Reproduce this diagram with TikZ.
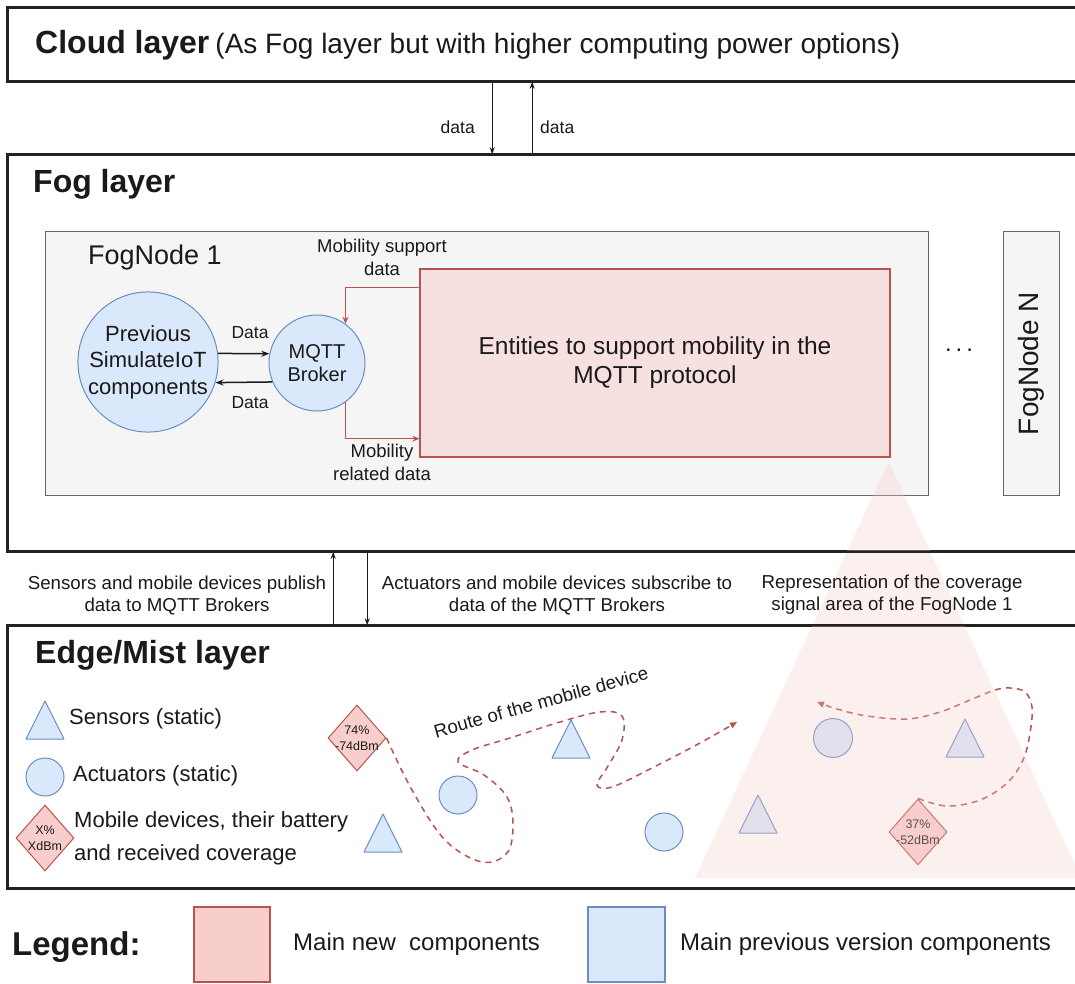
\documentclass[tikz,border=0pt]{standalone}
\usepackage{fontspec}
\setmainfont{Liberation Sans}
\usetikzlibrary{shapes.geometric,arrows.meta,calc}
\definecolor{ink}{HTML}{1A1A1A}
\definecolor{layerc}{HTML}{222222}
\definecolor{bluef}{HTML}{DAE8FC}
\definecolor{bluel}{HTML}{6C8EBF}
\definecolor{redf}{HTML}{F8CECC}
\definecolor{redl}{HTML}{B85450}
\definecolor{entf}{HTML}{F7E0E0}
\definecolor{grayf}{HTML}{F5F5F5}
\definecolor{grayl}{HTML}{666666}
\newcommand\fs[2]{\fontsize{#1}{#2}\selectfont}
\newcommand\sensortri[3][]{\draw[sensor,#1] (#2-19,#3+38) -- (#2+19,#3+38) -- (#2,#3) -- cycle;}
\tikzset{
 txt/.style={text=ink, inner sep=0},
 layer/.style={draw=layerc, line width=1.6pt, inner sep=0, minimum width=1070pt},
 layerline/.style={draw=layerc, line width=1.6pt},
 title/.style={txt, font=\fs{32}{38}\bfseries, anchor=base west},
 fognode/.style={draw=grayl, fill=grayf, line width=1pt, inner sep=0},
 bluec/.style={circle, draw=bluel, fill=bluef, line width=1pt, inner sep=0},
 entity/.style={draw=redl, fill=entf, line width=1.3pt, inner sep=0},
 mobile/.style={diamond, draw=redl, fill=redf, line width=1pt, inner sep=0, minimum width=58pt, minimum height=66pt},
 dtext/.style={txt, font=\fs{12.5}{16}, align=center},
 sensor/.style={draw=bluel, fill=bluef, line width=1pt, line join=round},
 arr/.style={draw=ink, line width=1pt, -{Stealth[length=7pt,width=5pt]}},
 darr/.style={draw=ink, line width=1.5pt, -{Stealth[length=8pt,width=6pt]}},
 rarr/.style={draw=redl, line width=1.3pt, -{Stealth[length=7pt,width=6pt]}},
 route/.style={draw=redl, line width=1.5pt, dash pattern=on 6pt off 5pt, -{Triangle[length=7pt,width=6pt]}},
 lbl/.style={txt, align=center, font=\fs{18.7}{22}},
 legtxt/.style={txt, anchor=west, font=\fs{22}{33}, align=left},
}
\begin{document}
\begin{tikzpicture}[x=1pt,y=-1pt]
\useasboundingbox (0,0) rectangle (1075,984);
\fill[white] (0,0) rectangle (1075,984);

% layers
\node[layer, minimum height=73pt] (cloud) at (543,44.5) {};
\node[layer, minimum height=396pt] (fog) at (543,353) {};
\node[layer, minimum height=262pt] (edge) at (543,757) {};

% fog nodes
\node[fognode, minimum width=883pt, minimum height=263pt] (fn1) at (486.5,363.5) {};
\node[txt, anchor=west, font=\fs{27}{32}] (fn1t) at (88,258) {FogNode 1};
\node[fognode, rotate=90, minimum width=263pt, minimum height=56pt, font=\fs{28}{32}, text=ink] (fnN) at (1031,363.5) {FogNode N};
\node[txt, font=\fs{24}{28}] (dots) at (959,350) {.\,.\,.};

\node[bluec, minimum size=140pt, align=center, font=\fs{22}{26.5}, text=ink] (prev) at (148,362) {Previous\\SimulateIoT\\components};
\node[bluec, minimum size=96pt, align=center, font=\fs{20}{23}, text=ink] (broker) at (317,363) {MQTT\\Broker};
\node[entity, minimum width=470pt, minimum height=188pt, align=center, font=\fs{24.5}{29}, text=ink] (ent) at (655,363) {Entities to support mobility in the\\MQTT protocol};

\draw[darr] (prev.7) -- (broker.169);
\draw[darr] (broker.203) -- (prev.-17);
\node[txt, font=\fs{17.5}{20}] (d1l) at (250,333) {Data};
\node[txt, font=\fs{17.5}{20}] (d2l) at (250,403) {Data};

\draw[rarr] ($(ent.north west)+(0,19)$) -| (broker.54);
\draw[rarr] (broker.-54) |- ($(ent.south west)+(0,-19)$);
\node[txt, align=center, font=\fs{18.5}{23}] (msd) at (382,257) {Mobility support\\data};
\node[txt, align=center, font=\fs{18.5}{23}] (mrd) at (382,462) {Mobility\\related data};

% cloud-fog arrows
\draw[arr] ($(cloud.south west)+(485,0)$) -- ($(fog.north west)+(485,0)$);
\draw[arr] ($(fog.north west)+(525,0)$) -- ($(cloud.south west)+(525,0)$);
\node[txt, anchor=east, font=\fs{17.5}{20}] (dl1) at (475,127) {data};
\node[txt, anchor=west, font=\fs{17.5}{20}] (dl2) at (540,127) {data};

% fog-edge arrows
\draw[arr] ($(edge.north west)+(326,0)$) -- ($(fog.south west)+(326,0)$);
\draw[arr] ($(fog.south west)+(360,0)$) -- ($(edge.north west)+(360,0)$);

% edge layer legend items
\sensortri{45}{701}
\node[bluec, minimum size=38pt] (lact) at (45,777) {};
\node[mobile] (lmob) at (45,838) {};
\node[dtext] (lmobt) at (lmob) {X\%\\XdBm};
\node[legtxt] (lsen) at (69,719) {Sensors (static)};
\node[legtxt] (lac) at (73,776) {Actuators (static)};
\node[legtxt] (lmb) at (74,838) {Mobile devices, their battery\\and received coverage};

% edge scene
\node[mobile] (m1) at (357,738) {};
\node[dtext] (m1t) at (m1) {74\%\\-74dBm};
\node[bluec, minimum size=38pt] (a1) at (458,795) {};
\node[bluec, minimum size=38pt] (a2) at (664,832) {};
\sensortri{383}{814}
\sensortri{571}{720}
\draw[route] plot[smooth, tension=0.6] coordinates {(m1.east) (412,790) (445,840) (482,862) (507,853) (513,825) (507,797) (484,775) (458,762) (472,750) (510,738) (560,722) (600,712) (622,716) (622,740) (608,766) (597,785) (612,787) (650,769) (700,743) (737,722)};
\node[txt, rotate=15.5, font=\fs{18.7}{22}] (routel) at (541,702) {Route of the mobile device};

\node[bluec, minimum size=39pt] (a3) at (833,738) {};
\sensortri{965}{719}
\sensortri{758}{795}
\node[mobile] (m2) at (918,832) {};
\node[dtext] (m2t) at (m2) {37\%\\-52dBm};
\draw[route] plot[smooth, tension=0.6] coordinates {(m2.north) (947,806) (980,800) (1007,783) (1023,760) (1030,733) (1032,707) (1025,692) (1010,688) (995,690) (970,700) (940,712) (907,719) (867,716) (837,709) (817,702)};

% coverage triangle
\fill[redf, fill opacity=0.3] ($(ent.south east)+(-2,4)$) -- (695,878) -- (1081,878) -- cycle;

% layer outlines on top
\draw[layerline] (cloud.south west) rectangle (cloud.north east);
\draw[layerline] (fog.south west) rectangle (fog.north east);
\draw[layerline] (edge.south west) rectangle (edge.north east);

% titles
\node[title] (ct) at (35,54) {Cloud layer\hspace{6pt}{\fs{28}{34}\mdseries (As Fog layer but with higher computing power options)}};
\node[title] (ft) at (33,193) {Fog layer};
\node[title] (et) at (35,663) {Edge/Mist layer};

\node[lbl] (publ) at (177,595) {Sensors and mobile devices publish\\data to MQTT Brokers};
\node[lbl] (subl) at (557,595) {Actuators and mobile devices subscribe to\\data of the MQTT Brokers};
\node[lbl] (covl) at (892,595) {Representation of the coverage\\signal area of the FogNode 1};

% legend
\node[txt, anchor=base west, font=\fs{33}{38}\bfseries] (leg) at (12,955) {Legend:};
\node[draw=redl, fill=redf, line width=1.5pt, minimum width=76pt, minimum height=75pt, inner sep=0] (lnew) at (232,944.5) {};
\node[txt, anchor=west, font=\fs{24}{28}] (lnewt) at (293,944) {Main new\ \ components};
\node[draw=bluel, fill=bluef, line width=1.5pt, minimum width=77pt, minimum height=75pt, inner sep=0] (lold) at (626.5,944.5) {};
\node[txt, anchor=west, font=\fs{24}{28}] (loldt) at (680,944) {Main previous version components};
\end{tikzpicture}
\end{document}
